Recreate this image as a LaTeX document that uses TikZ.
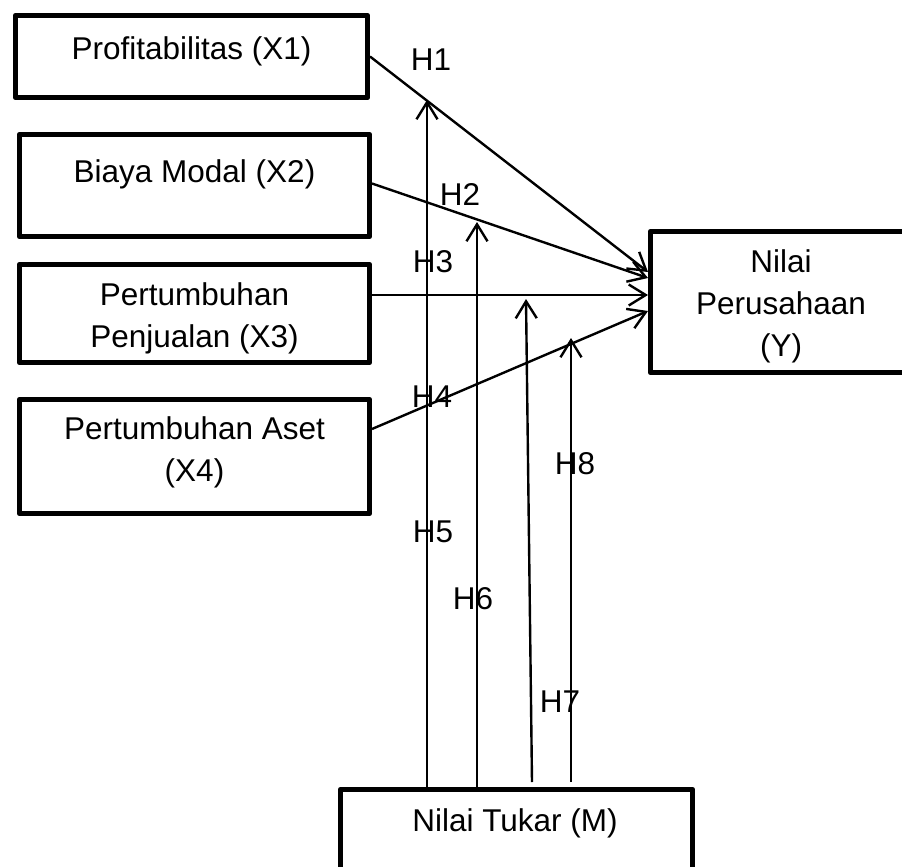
\documentclass[tikz,border=0pt]{standalone}
\usepackage{fontspec}
\setmainfont{Liberation Sans}
\usetikzlibrary{arrows.meta}
\begin{document}
\begin{tikzpicture}[x=1pt,y=-1pt,
  box/.style={draw, line width=4.6pt, line join=round, inner sep=0pt},
  txt/.style={font=\fontsize{31.5}{42}\selectfont, align=center, inner sep=0pt},
  lbl/.style={font=\fontsize{31.5}{42}\selectfont, inner sep=0pt},
  arr/.style={line width=2.4pt, -{Straight Barb[length=17pt,width=21pt]}}]
\useasboundingbox (0,0) rectangle (902,867);
\clip (0,0) rectangle (902,867);
% boxes
\node[box, minimum width=352.4pt, minimum height=82.4pt] (x1) at (191.5,56.5) {};
\node[box, minimum width=350.4pt, minimum height=102.4pt] (x2) at (194.5,185.5) {};
\node[box, minimum width=350.4pt, minimum height=98.4pt] (x3) at (194.5,313.5) {};
\node[box, minimum width=350.4pt, minimum height=114.4pt] (x4) at (194.5,456.5) {};
\node[box, minimum width=262.4pt, minimum height=141.4pt] (y) at (781.5,302) {};
\node[box, minimum width=352.4pt, minimum height=108.4pt] (m) at (516.5,843.5) {};
% texts
\node[txt] (x1t) at (191.5,51) {Profitabilitas (X1)};
\node[txt] (x2t) at (194.5,174) {Biaya Modal (X2)};
\node[txt] (x3t) at (194.5,318) {Pertumbuhan\\Penjualan (X3)};
\node[txt] (x4t) at (194.5,452) {Pertumbuhan Aset\\(X4)};
\node[txt] (yt) at (781,306) {Nilai\\Perusahaan\\(Y)};
\node[txt] (mt) at (515,823) {Nilai Tukar (M)};
% direct paths
\draw[arr] (x1.east) -- ([yshift=30pt]y.west);
\draw[arr] ([yshift=2pt]x2.east) -- ([yshift=24pt]y.west);
\draw[arr] ([yshift=18.5pt]x3.east) -- ([yshift=7pt]y.west);
\draw[arr] ([yshift=27.5pt]x4.east) -- ([yshift=-9pt]y.west);
% moderating paths
\coordinate (e1) at (427,100);
\coordinate (e2) at (477,222);
\coordinate (e3) at (526,299);
\coordinate (e4) at (571,338);
\draw[arr] ([xshift=89pt]m.north west) -- (e1);
\draw[arr] ([xshift=139pt]m.north west) -- (e2);
\draw[arr] ([xshift=194pt,yshift=5pt]m.north west) -- (e3);
\draw[arr] ([xshift=233pt,yshift=5pt]m.north west) -- (e4);
% labels
\node[lbl] (h1) at (431,60) {H1};
\node[lbl] (h2) at (460,195) {H2};
\node[lbl] (h3) at (433,262) {H3};
\node[lbl] (h4) at (432,397) {H4};
\node[lbl] (h5) at (433,532) {H5};
\node[lbl] (h6) at (473,599) {H6};
\node[lbl] (h7) at (560,702) {H7};
\node[lbl] (h8) at (575,464) {H8};
\end{tikzpicture}
\end{document}
